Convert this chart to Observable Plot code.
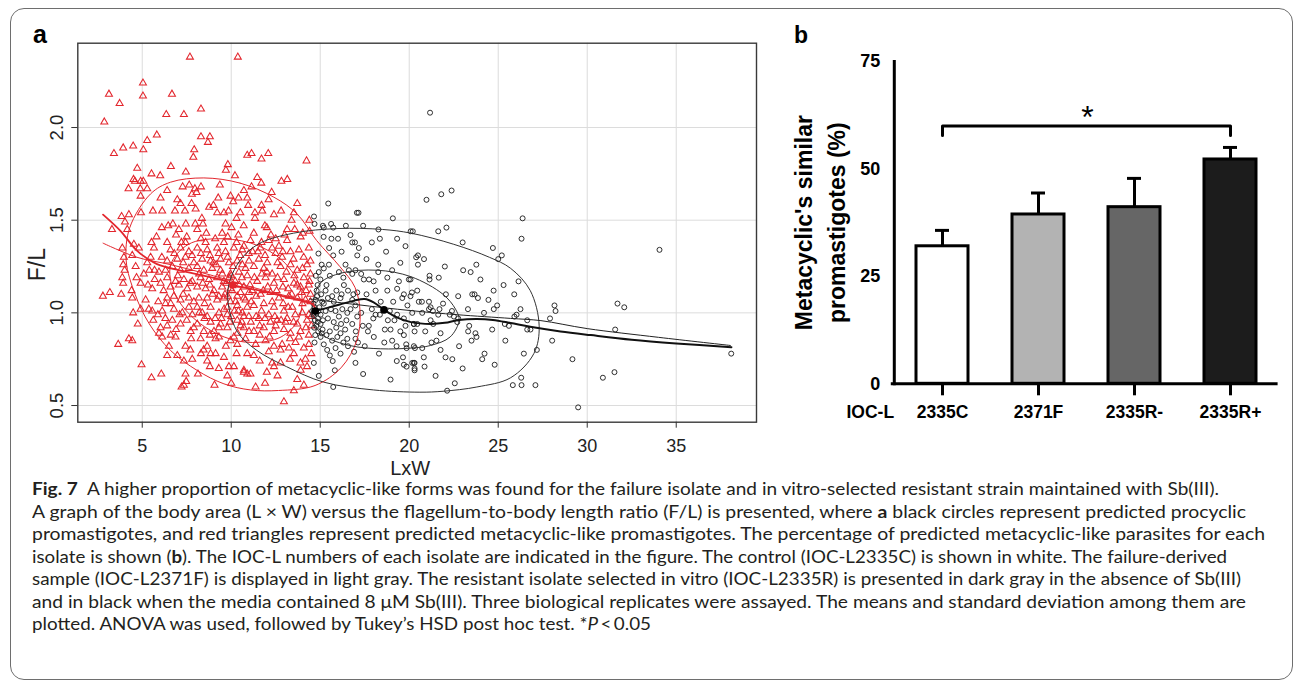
<!DOCTYPE html>
<html><head><meta charset="utf-8">
<script src="https://cdn.jsdelivr.net/npm/d3@7"></script>
<script src="https://cdn.jsdelivr.net/npm/@observablehq/plot@0.6"></script>
<style>
html,body{margin:0;padding:0;background:#fff}
body{width:1295px;height:681px;overflow:hidden;position:relative;font-family:"Liberation Sans",Arial,sans-serif}
#border{position:absolute;left:10px;top:8px;width:1283px;height:672px;border:1.5px solid #6e6e6e;border-radius:14px;box-sizing:border-box}
#pa{position:absolute;left:0;top:0}
#pb{position:absolute;left:760px;top:0}
#labels{position:absolute;left:0;top:0}
#cap{position:absolute;left:32px;top:478px;font-family:Lato,"Open Sans",sans-serif;font-size:16.5px;line-height:22.5px;color:#231f20}
#cap div{white-space:nowrap;transform-origin:0 50%;width:max-content}
</style></head>
<body>
<div id="border"></div>
<div id="pa"></div>
<div id="pb"></div>
<svg id="labels" width="1295" height="681"><text x="33" y="43" font-family="Liberation Sans, Arial" font-weight="bold" font-size="25">a</text><text x="794" y="43" font-family="Liberation Sans, Arial" font-weight="bold" font-size="23">b</text></svg>
<div id="cap">
<div data-w="1187"><b>Fig. 7</b>&nbsp; A higher proportion of metacyclic-like forms was found for the failure isolate and in vitro-selected resistant strain maintained with Sb(III).</div>
<div data-w="1214">A graph of the body area (L × W) versus the flagellum-to-body length ratio (F/L) is presented, where <b>a</b> black circles represent predicted procyclic</div>
<div data-w="1233">promastigotes, and red triangles represent predicted metacyclic-like promastigotes. The percentage of predicted metacyclic-like parasites for each</div>
<div data-w="1195">isolate is shown (<b>b</b>). The IOC-L numbers of each isolate are indicated in the figure. The control (IOC-L2335C) is shown in white. The failure-derived</div>
<div data-w="1209">sample (IOC-L2371F) is displayed in light gray. The resistant isolate selected in vitro (IOC-L2335R) is presented in dark gray in the absence of Sb(III)</div>
<div data-w="1214">and in black when the media contained 8 μM Sb(III). Three biological replicates were assayed. The means and standard deviation among them are</div>
<div data-w="619">plotted. ANOVA was used, followed by Tukey’s HSD post hoc test. *<i>P</i>&thinsp;&lt;&thinsp;0.05</div>
</div>
<script>
// ---------- Panel a data (LxW, F/L) ----------
const xTicks = [5, 10, 15, 20, 25, 30, 35];
const yTicks = [0.5, 1.0, 1.5, 2.0];

const metacyclic = [
[7.68,2.38],[10.37,2.38],[5.04,2.24],[3.13,2.18],[5.04,2.17],[6.67,2.18],[3.73,2.13],[6.35,2.07],[7.34,2.07],[8.30,2.10],
[2.87,2.03],[5.82,1.96],[5.28,1.93],[8.30,1.95],[8.80,1.95],[8.69,1.92],[3.41,1.86],[3.93,1.89],[4.49,1.90],[5.06,1.88],
[7.92,1.88],[7.87,1.84],[10.90,1.85],[4.72,1.78],[6.61,1.79],[5.52,1.75],[6.01,1.74],[7.45,1.76],[9.81,1.80],[9.70,1.77],
[10.21,1.74],[4.51,1.72],[4.91,1.71],[4.59,1.71],[4.23,1.67],[5.06,1.71],[4.89,1.67],[5.28,1.67],[4.91,1.63],[6.40,1.66],
[7.27,1.68],[7.64,1.69],[7.96,1.67],[8.30,1.68],[9.36,1.69],[10.71,1.66],[7.79,1.64],[8.05,1.65],[6.03,1.62],[6.97,1.61],
[7.15,1.59],[7.77,1.59],[9.27,1.62],[9.96,1.63],[10.11,1.60],[10.41,1.62],[8.76,1.57],[10.90,1.62],[4.93,1.54],[6.12,1.55],
[6.84,1.55],[7.40,1.55],[9.21,1.54],[9.59,1.54],[9.85,1.55],[10.51,1.54],[3.84,1.52],[4.25,1.53],[3.30,1.45],[4.03,1.49],
[4.16,1.45],[6.46,1.47],[6.72,1.48],[7.06,1.45],[7.45,1.48],[7.98,1.48],[8.35,1.51],[8.41,1.48],[8.09,1.45],[9.68,1.48],
[10.02,1.46],[9.49,1.43],
[11.14,1.86],[11.70,1.83],[12.08,1.86],[14.23,1.82],[11.46,1.73],[11.69,1.70],[11.14,1.68],[12.27,1.65],[12.82,1.71],[13.15,1.72],
[10.95,1.58],[11.70,1.58],[11.74,1.55],[13.71,1.59],[12.40,1.53],[13.52,1.54],[11.33,1.54],[11.33,1.51],[13.39,1.50],[14.39,1.50],
[11.89,1.47],[13.14,1.45],[13.57,1.45],[14.02,1.43],[12.23,1.42],[11.27,1.43],
[6.90,1.42],[7.50,1.41],[8.60,1.43],[9.10,1.40],[10.40,1.42],[5.80,1.41],[12.50,1.40],[13.90,1.41],[14.40,1.44],
[10.71,1.36],[11.08,1.39],[11.64,1.35],[12.11,1.39],[12.68,1.36],[13.14,1.39],[13.80,1.34],[14.36,1.35],[12.49,1.32],[12.86,1.30],
[13.33,1.33],[14.07,1.30],[14.26,1.26],[14.45,1.28],[12.02,1.27],[11.55,1.29],[10.99,1.32],[10.62,1.26],[11.27,1.25],[11.83,1.24],
[12.30,1.21],[12.77,1.25],[13.33,1.26],[13.71,1.23],[14.08,1.19],[14.45,1.21],[10.90,1.20],[11.46,1.17],[11.93,1.19],[12.40,1.16],
[12.96,1.18],[13.52,1.16],[13.89,1.14],[14.36,1.15],[10.71,1.14],[11.18,1.12],[11.65,1.10],[12.21,1.11],[12.68,1.08],[13.24,1.09],
[13.71,1.08],[14.17,1.07],[14.45,1.06],[10.80,1.07],[11.27,1.04],[11.83,1.05],[12.40,1.03],[12.96,1.01],[13.43,1.03],[13.99,1.00],
[14.36,0.99],[10.62,1.00],[10.99,0.98],[11.55,0.97],[12.11,0.99],[12.58,0.96],[13.14,0.97],[13.71,0.94],[14.26,0.96],[10.71,0.92],
[11.27,0.90],[11.83,0.92],[12.40,0.90],[12.96,0.91],[13.33,0.89],[13.89,0.90],[14.36,0.88],[10.80,0.86],[11.37,0.83],[11.93,0.85],
[12.40,0.82],[12.86,0.83],[13.24,0.81],[13.61,0.84],[14.08,0.81],[14.36,0.83],[10.90,0.78],[11.27,0.77],[12.11,0.79],[12.77,0.80],
[13.52,0.78],[14.17,0.75],[12.30,0.73],[12.40,0.71],[12.77,0.73],[13.89,0.73],[14.26,0.71],[10.71,0.68],[11.08,0.67],[13.71,0.64],
[14.08,0.61],[13.52,0.58],[11.37,0.60],[12.96,0.52],
[2.79,1.09],[3.18,1.11],[3.88,1.35],[3.97,1.30],[3.93,1.26],[4.01,1.23],[3.88,1.19],[3.93,1.16],[3.82,1.10],[4.44,1.08],
[4.40,1.12],[4.53,1.37],[4.81,1.35],[4.44,1.31],[4.63,1.25],[4.68,1.19],[4.91,1.16],[4.49,1.00],[4.75,0.94],[3.65,0.83],
[4.25,0.86],[4.44,0.85],[4.96,0.72],[5.52,0.65],[6.07,0.67],[5.52,1.38],[5.66,1.35],[5.47,1.30],[5.69,1.23],[5.32,1.15],
[5.56,1.13],[5.37,1.02],[5.56,1.01],[6.12,1.01],[5.88,0.99],[5.62,0.96],[6.40,1.08],[6.31,1.05],[6.78,1.02],[6.03,0.92],
[6.40,0.93],[5.94,0.89],[6.12,0.87],[6.50,0.82],[6.40,0.77],[6.87,0.87],[6.97,0.77],[7.43,0.82],[7.34,0.74],[7.43,0.67],
[7.34,0.61],[7.21,0.60],[7.47,0.63],[7.75,0.86],[7.81,0.75],[8.13,0.67],[8.28,0.86],[8.65,0.82],[8.65,0.74],[8.80,0.71],
[9.06,0.61],[8.84,0.78],[9.12,0.78],[9.31,0.87],[9.59,0.76],[9.78,0.66],[9.87,0.71],[10.15,0.71],[10.71,0.69],[10.90,0.67],
[9.31,0.92],[9.78,0.92],[9.03,0.90],[9.96,0.85],[10.15,0.87],[10.34,0.83],[9.12,0.86],[6.69,0.96],[7.15,0.94],[7.72,0.90],
[8.09,0.94],[8.46,0.90],[8.84,0.95],[8.65,0.98],[8.37,1.00],[7.81,0.99],[7.25,1.00],[7.62,1.03],[8.09,1.03],[8.84,1.03],
[9.31,1.00],[9.78,0.99],[10.34,0.96],[10.71,0.98],[9.78,1.03],[10.34,1.04],[10.90,1.03],[9.21,1.07],[9.59,1.08],[8.65,1.08],
[8.18,1.08],[7.62,1.08],[7.15,1.07],[6.78,1.09],[6.59,1.14],[7.06,1.15],[7.53,1.13],[8.09,1.14],[8.56,1.13],[9.03,1.12],
[9.49,1.14],[9.96,1.13],[10.52,1.11],[10.71,1.08],[10.34,1.09],[9.59,1.17],[9.21,1.19],[8.75,1.18],[8.28,1.19],[7.81,1.17],
[7.34,1.18],[6.87,1.17],[6.40,1.19],[6.03,1.16],[5.94,1.22],[6.31,1.23],[6.69,1.25],[7.15,1.23],[7.62,1.24],[8.09,1.25],
[8.46,1.23],[8.93,1.24],[9.40,1.23],[9.96,1.21],[10.43,1.22],[6.40,1.28],[6.97,1.29],[7.43,1.30],[7.90,1.27],[8.37,1.29],
[8.84,1.28],[9.40,1.29],[9.87,1.27],[10.34,1.28],[6.59,1.34],[7.15,1.35],[7.62,1.33],[8.09,1.35],[8.65,1.34],[9.21,1.35],
[9.68,1.33],[10.15,1.35],[10.62,1.34],[6.40,1.38],[7.43,1.38],[8.56,1.38],[9.59,1.38],[5.28,1.27],[5.09,1.21],[5.19,1.07],
[4.91,1.02],
[9.72,1.16],[9.88,1.19],[10.05,1.12],[10.22,1.17],[9.95,1.06],[10.18,1.01],[10.45,1.15],[9.65,1.10],[10.60,1.19],[11.05,1.15],
[11.40,1.09],[11.72,1.21],[12.05,1.14],[12.55,1.12],[12.92,1.05],[13.20,1.13],[13.05,0.95],[12.45,0.98],[11.70,1.01],[11.12,1.06],
[9.45,0.97],[9.92,0.95],[10.52,0.93],[11.10,0.95],[8.95,1.10],[8.40,1.16],[9.15,1.26],[10.10,1.25],[11.00,1.28],[11.90,1.31],
[12.60,1.27],[13.55,1.20],[13.95,1.11],[13.60,0.99],[13.30,0.86],[12.15,0.87],[11.60,0.88],[10.35,0.89],[9.70,0.82],[8.45,0.80],
[6.20,1.12],[6.60,1.05],[7.00,1.20],[7.30,1.10],[7.70,1.16],[7.90,1.06],[8.20,1.21],[8.50,1.05],[8.80,1.15],[9.00,1.27],
[9.30,1.09],[9.50,1.21],[9.80,1.09],[10.00,1.20],[10.25,1.06],[10.50,1.31],[10.80,1.24],[11.00,1.11],[11.30,1.19],[11.50,1.33],
[11.80,1.12],[12.00,1.22],[12.30,1.06],[12.60,1.19],[12.90,1.14],[13.10,1.22],[13.40,1.10],[13.70,1.15],[14.00,1.05],[14.20,1.12],
[14.50,0.98],[14.20,0.92],[13.80,0.87],[13.50,0.95],[13.20,1.03],[12.80,0.96],[12.50,0.93],[12.20,0.95],[11.90,0.97],[11.60,0.93],
[11.40,0.98],[11.00,0.90],[10.60,0.95],[10.40,1.01],[10.00,0.98],[9.60,1.02],[9.40,0.94],[9.10,0.97],[8.80,0.88],[8.50,0.97],
[8.20,1.00],[7.90,0.92],[7.50,0.96],[7.10,0.99],[6.90,0.91],[6.60,0.88],[6.30,0.97],[5.90,1.06],[5.70,1.18],[5.40,1.23],
[6.10,1.30],[6.80,1.32],[7.30,1.27],[7.80,1.31],[8.30,1.32],[8.80,1.31],[9.30,1.32],[9.80,1.30],[10.30,1.38],[11.20,1.33],
[11.70,1.38],[12.30,1.35],[12.90,1.33],[13.50,1.29],[14.00,1.24],[14.40,1.17],[13.00,1.42],[12.00,1.46],[10.70,1.47],[9.80,1.41],
[8.30,1.40],[7.20,1.38],[6.10,1.46],[5.60,1.55],[8.00,1.56],[9.00,1.58],[10.30,1.51],[12.80,1.55],[12.10,1.61],[13.30,0.75],
[12.00,0.68],[11.60,0.74],[10.30,0.78],[9.30,0.70],[8.30,0.78],[7.70,0.80],[11.90,0.62],[10.00,0.62],[12.60,0.66],[13.90,0.69],
[14.50,0.78],[14.50,0.93],[14.45,1.10]
];

const procyclic = [
[15.45,1.59],[14.65,1.52],[17.06,1.54],[17.15,1.54],[19.08,1.51],[14.68,1.48],[15.15,1.47],[15.20,1.46],[15.61,1.48],[15.73,1.46],
[16.44,1.47],[17.41,1.47],[18.27,1.45],[20.20,1.44],[16.70,1.42],[15.19,1.41],[15.63,1.40],[18.35,1.40],[19.32,1.40],[21.17,2.08],
[20.97,1.61],[21.80,1.64],[22.38,1.66],[26.37,1.51],[20.08,1.44],[21.63,1.44],[22.09,1.46],[26.31,1.40],[24.70,1.35],[25.00,1.29],
[25.20,1.31],[20.49,1.31],[20.83,1.29],[20.49,1.26],[23.03,1.23],[23.45,1.22],[23.77,1.26],[21.14,1.20],[21.14,1.18],[21.66,1.19],
[26.14,1.17],[20.07,1.18],[20.15,1.11],[22.06,1.10],[22.75,1.09],[23.54,1.10],[23.67,1.10],[23.86,1.08],[24.74,1.12],[24.45,1.07],
[25.90,1.10],[24.94,1.04],[24.75,1.02],[26.25,1.02],[26.03,0.99],[25.91,0.98],[28.16,1.04],[28.22,1.01],[27.91,0.97],[20.54,1.06],
[20.71,1.06],[21.11,1.06],[21.20,1.03],[21.11,1.02],[20.73,1.00],[21.33,1.01],[21.70,1.02],[21.63,0.99],[22.28,0.99],[22.40,1.01],
[22.51,0.98],[22.75,0.97],[22.70,0.95],[21.20,0.96],[21.35,0.94],[20.45,0.94],[20.26,0.94],[20.30,0.90],[21.76,0.89],[21.53,0.85],
[21.25,0.84],[20.73,0.81],[20.32,0.81],[23.37,0.93],[23.31,0.90],[23.72,0.89],[23.78,0.87],[23.50,0.85],[24.66,0.91],[25.37,0.94],
[25.60,0.93],[26.63,0.96],[26.63,0.91],[26.81,0.91],[28.03,0.85],[27.17,0.80],[26.44,0.78],[21.76,0.80],[22.04,0.76],[22.42,0.75],
[24.23,0.78],[24.10,0.75],[20.82,0.76],[20.86,0.71],[20.26,0.73],[20.30,0.69],[21.48,0.66],[22.56,0.62],[22.13,0.58],[26.29,0.65],
[25.82,0.61],[26.31,0.61],[27.09,0.61],[29.17,0.75],[29.49,0.49],
[30.88,0.65],[31.53,0.68],[38.09,0.78],[31.70,1.05],[32.08,1.03],[31.57,0.91],[34.06,1.34],
[16.80,1.38],[16.95,1.38],[17.17,1.35],[17.08,1.31],[15.73,1.31],[15.49,1.26],[15.08,1.26],[16.42,1.26],[18.26,1.26],[19.04,1.23],
[19.79,1.36],[20.39,1.30],[14.92,1.22],[15.54,1.20],[15.01,1.18],[16.05,1.22],[16.61,1.23],[16.80,1.21],[16.98,1.23],[17.45,1.18],
[17.74,1.18],[18.26,1.22],[18.77,1.19],[19.42,1.17],[19.98,1.18],[20.45,1.12],[18.11,1.12],[18.77,1.12],[19.32,1.13],[19.70,1.10],
[19.61,1.08],[20.07,1.09],[15.35,1.15],[15.91,1.12],[15.67,1.09],[16.33,1.15],[16.56,1.12],[16.86,1.10],[17.08,1.11],[16.80,1.07],
[16.98,1.04],[16.14,1.08],[15.76,1.06],[15.43,1.08],[15.11,1.06],[14.83,1.09],[14.68,1.03],[14.79,1.00],[15.02,0.99],[15.30,1.01],
[15.43,0.97],[15.86,1.01],[16.24,1.02],[16.52,1.00],[16.05,0.98],[15.76,0.95],[16.17,0.94],[16.47,0.96],[16.80,0.94],[17.08,0.98],
[17.39,0.93],[17.73,0.93],[17.98,0.97],[18.11,0.99],[18.35,0.99],[18.91,1.01],[19.32,0.99],[19.17,0.96],[19.70,0.97],[20.17,1.00],
[20.26,0.94],[19.79,0.93],[18.95,0.91],[18.63,0.91],[14.86,0.95],[14.89,0.90],[15.13,0.91],[15.02,0.87],[15.35,0.88],[15.54,0.90],
[15.67,0.85],[15.96,0.87],[16.52,0.86],[16.56,0.82],[16.98,0.86],[17.12,0.84],[16.14,0.89],[17.68,0.90],[18.01,0.87],[19.04,0.85],
[19.29,0.82],[19.70,0.88],[20.26,0.82],[19.83,0.83],[19.85,0.81],[14.68,0.84],[15.39,0.80],[15.54,0.77],[15.86,0.81],[16.14,0.78],
[14.64,0.73],[14.92,0.66],[15.82,0.69],[16.98,0.73],[17.41,0.67],[15.73,0.60],[18.95,0.64],[19.65,0.76],[19.70,0.72],[19.85,0.71],
[20.17,0.73],[20.30,0.73],[20.30,0.70],[14.55,1.01],[14.61,0.99],[14.87,0.97],[15.02,0.94],
[14.62,1.05],[14.70,0.96],[14.75,1.07],[14.66,0.92],[14.80,1.12],[14.72,0.88],[14.95,1.03],[15.05,1.10],[14.85,1.15],[15.15,0.96],
[14.64,1.00],[14.90,1.01],[15.20,1.05],[14.78,0.93],[15.08,0.89],
[15.30,1.12],[15.60,1.02],[15.90,0.92],[16.20,1.10],[16.40,0.91],[16.70,1.02],[17.00,0.90],[17.30,1.00],[17.60,1.10],[17.90,1.02],
[18.40,1.06],[18.80,0.96],[19.10,1.06],[19.50,0.90],[19.90,1.04],[15.20,0.83],[15.70,0.74],[16.30,0.84],[16.90,0.79],[17.50,0.82],
[18.30,0.78],[18.60,0.84],[19.30,0.74],[15.50,1.35],[16.20,1.33],[17.60,1.29],[18.70,1.33],[19.50,1.27],[16.00,1.40],[17.90,1.38],
[14.90,1.32],[15.20,1.24],[14.75,1.20],[17.30,1.21],[18.00,1.17],[16.30,1.19],[22.00,1.25],[23.00,1.38],[24.00,1.18],[25.30,1.15],
[24.20,1.00],[23.30,1.02],[25.40,0.85],[24.80,0.72],[23.00,0.70],[22.80,0.82],[20.90,0.90],[21.90,1.05]
];

// centres drawn as filled markers
const metaCentre = [[10.11, 1.15]];
const procCentres = [[14.72, 1.01], [18.58, 1.016]];

// ellipses and fitted lines
const redOuter = [[8.46,1.728],[10.5,1.70],[12.4,1.624],[13.7,1.534],[14.8,1.39],[16.1,1.25],[16.95,1.138],[17.24,1.003],[17.05,0.85],[16.2,0.707],[14.71,0.608],[12.65,0.581],[11.09,0.584],[9.59,0.617],[8.09,0.689],[6.59,0.797],[5.4,0.94],[4.6,1.10],[4.1,1.28],[4.3,1.46],[5.47,1.642],[6.59,1.705]];
const redInner = [[9.3,1.40],[11.3,1.37],[12.9,1.28],[13.9,1.13],[13.8,0.97],[12.8,0.87],[11.2,0.84],[9.6,0.87],[7.9,0.97],[6.8,1.11],[6.6,1.26],[7.6,1.37]];
const blackOuter = [[9.8,1.11],[10.4,1.27],[11.5,1.37],[13.5,1.43],[16.0,1.455],[18.5,1.45],[20.1,1.43],[22.5,1.37],[24.5,1.30],[25.7,1.24],[26.8,1.12],[27.3,0.93],[27.0,0.78],[25.7,0.65],[23.8,0.60],[21.9,0.577],[20.6,0.572],[18.0,0.584],[15.2,0.626],[13.1,0.71],[11.4,0.80],[10.3,0.905]];
const blackInner = [[14.55,1.03],[15.0,1.16],[16.2,1.215],[18.2,1.23],[20.1,1.195],[21.9,1.10],[22.6,1.02],[22.8,0.96],[22.3,0.87],[21.2,0.824],[20.1,0.81],[18.4,0.806],[16.7,0.823],[15.2,0.877],[14.6,0.95]];
const redSmooth = [[2.8,1.53],[3.8,1.44],[4.7,1.336],[5.8,1.264],[7.15,1.228],[8.5,1.20],[9.6,1.174],[10.1,1.15],[11.1,1.13],[12.5,1.10],[13.5,1.075],[14.5,1.05],[14.7,1.03]];
const redFit = [[2.8,1.376],[4.7,1.30],[6.6,1.26],[9.0,1.20],[11.5,1.13],[14.5,1.06]];
const blackSmooth = [[14.7,1.01],[15.4,1.027],[16.1,1.045],[16.9,1.066],[17.5,1.075],[18.0,1.057],[18.6,1.016],[19.3,0.976],[20.1,0.95],[21.2,0.94],[22.0,0.946],[22.8,0.962],[23.8,0.967],[24.7,0.962],[25.7,0.945],[26.8,0.925],[28.5,0.90],[30.2,0.88],[32.5,0.855],[35.0,0.835],[38.1,0.815]];
const blackFit = [[14.4,1.075],[17.0,1.045],[20.1,1.012],[22.7,0.99],[25.7,0.97],[27.4,0.958],[30.0,0.915],[34.0,0.868],[38.05,0.824]];

// ---------- Panel b data ----------
const strains = ["2335C", "2371F", "2335R-", "2335R+"];
const means = [32.0, 39.4, 41.1, 52.2];
const sds = [3.7, 5.0, 6.7, 2.8];
const barColors = ["#ffffff", "#b3b3b3", "#666666", "#1c1c1c"];
const pTicks = [0, 25, 50, 75];

const RED = "#e3262d";
const xy = {x: d => d[0], y: d => d[1]};

const chartA = Plot.plot({
  width: 770, height: 480,
  marginLeft: 77.3, marginTop: 42.7, marginRight: 14, marginBottom: 58.3,
  style: {fontFamily: "Liberation Sans, Arial, sans-serif", background: "transparent", overflow: "visible", color: "#222"},
  x: {domain: [1.38, 39.51], label: null},
  y: {domain: [0.41, 2.455], label: null},
  marks: [
    Plot.gridX({ticks: xTicks, stroke: "#dcdcdc", strokeOpacity: 1, strokeWidth: 1}),
    Plot.gridY({ticks: yTicks, stroke: "#dcdcdc", strokeOpacity: 1, strokeWidth: 1}),
    Plot.dot(metacyclic, {...xy, symbol: "triangle", r: 2.6, stroke: RED, strokeWidth: 1.05, fill: "none"}),
    Plot.dot(procyclic, {...xy, r: 2.5, stroke: "#1a1a1a", strokeWidth: 0.9, fill: "none"}),
    Plot.line(redOuter, {...xy, curve: "catmull-rom-closed", stroke: RED, strokeWidth: 1}),
    Plot.line(redInner, {...xy, curve: "catmull-rom-closed", stroke: RED, strokeWidth: 1}),
    Plot.line(blackOuter, {...xy, curve: "catmull-rom-closed", stroke: "#333", strokeWidth: 1}),
    Plot.line(blackInner, {...xy, curve: "catmull-rom-closed", stroke: "#333", strokeWidth: 1}),
    Plot.line(redFit, {...xy, curve: "catmull-rom", stroke: RED, strokeWidth: 1}),
    Plot.line(redSmooth, {...xy, curve: "catmull-rom", stroke: RED, strokeWidth: 1.8}),
    Plot.line(blackFit, {...xy, curve: "catmull-rom", stroke: "#222", strokeWidth: 1}),
    Plot.line(blackSmooth, {...xy, curve: "catmull-rom", stroke: "#111", strokeWidth: 2}),
    Plot.dot(metaCentre, {...xy, symbol: "square", r: 3.6, fill: RED}),
    Plot.dot(procCentres, {...xy, r: 3.8, fill: "#000"}),
    Plot.frame({stroke: "#3a3a3a", strokeWidth: 1.4}),
    Plot.axisX({ticks: xTicks, tickSize: 6, tickPadding: 11, fontSize: 18, stroke: "#333", tickFormat: d => String(d), label: null}),
    Plot.axisY({ticks: yTicks, tickSize: 6, tickFormat: () => "", stroke: "#333", label: null}),
    Plot.text(yTicks, {y: d => d, text: d => d.toFixed(1), frameAnchor: "left", dx: -20.3, rotate: -90, textAnchor: "middle", lineAnchor: "middle", fontSize: 18.5, fill: "#222"}),
    Plot.text(["LxW"], {text: d => d, frameAnchor: "bottom", dx: -7, dy: 46, lineAnchor: "middle", fontSize: 20, fill: "#222"}),
    Plot.text(["F/L"], {text: d => d, frameAnchor: "left", dx: -39.8, dy: 32, rotate: -90, textAnchor: "middle", lineAnchor: "middle", fontSize: 23, fill: "#222"})
  ]
});
document.getElementById("pa").appendChild(chartA);

const rows = strains.map((s, i) => ({s, m: means[i], sd: sds[i], c: barColors[i]}));
const chartB = Plot.plot({
  width: 535, height: 480,
  marginLeft: 133.8, marginRight: 17.4, marginTop: 61, marginBottom: 96.7,
  style: {fontFamily: "Liberation Sans, Arial, sans-serif", fontWeight: "bold", background: "transparent", overflow: "visible", color: "#000"},
  x: {domain: strains, paddingInner: 0.461, paddingOuter: 0.219, align: 0.5, label: null},
  y: {domain: [0, 75], label: null},
  marks: [
    Plot.ruleX(rows, {x: "s", y1: "m", y2: d => d.m + d.sd, stroke: "#000", strokeWidth: 3}),
    Plot.tickY(rows, {x: "s", y: d => d.m + d.sd, stroke: "#000", strokeWidth: 3, insetLeft: 19, insetRight: 19}),
    Plot.barY(rows, {x: "s", y: "m", fill: "c", stroke: "#000", strokeWidth: 3}),
    Plot.line([["2335C", 57.8], ["2335C", 60.0], ["2335R+", 60.0], ["2335R+", 57.8]], {x: d => d[0], y: d => d[1], stroke: "#000", strokeWidth: 3}),
    Plot.text(["*"], {x: () => "2371F", y: () => 62.0, dx: 49, text: d => d, fontSize: 32, fontWeight: "normal", lineAnchor: "middle", fill: "#000"}),
    Plot.ruleY([0], {stroke: "#000", strokeWidth: 3, insetLeft: -3}),
    Plot.frame({anchor: "left", stroke: "#000", strokeWidth: 3}),
    Plot.axisX({tickSize: 12, tickPadding: 10, strokeWidth: 3, stroke: "#000", fontSize: 17.5, fontWeight: "bold", fill: "#000", label: null}),
    Plot.axisY({ticks: pTicks, tickSize: 0, tickPadding: 14, fontSize: 18, fontWeight: "bold", fill: "#000", label: null}),
    Plot.text(["IOC-L"], {text: d => d, frameAnchor: "bottom-left", dx: -24, dy: 28.4, lineAnchor: "middle", textAnchor: "middle", fontSize: 17.5, fontWeight: "bold", fill: "#000"}),
    Plot.text(["Metacyclic's similar"], {text: d => d, frameAnchor: "left", dx: -89.4, rotate: -90, textAnchor: "middle", lineAnchor: "middle", fontSize: 23, fontWeight: "bold", fill: "#000"}),
    Plot.text(["promastigotes (%)"], {text: d => d, frameAnchor: "left", dx: -57, rotate: -90, textAnchor: "middle", lineAnchor: "middle", fontSize: 23, fontWeight: "bold", fill: "#000"})
  ]
});
document.getElementById("pb").appendChild(chartB);

function fitCaption() {
  document.querySelectorAll("#cap div").forEach(el => {
    el.style.transform = "none";
    const w = el.getBoundingClientRect().width;
    const t = +el.dataset.w;
    if (w > 0) el.style.transform = `scaleX(${t / w})`;
  });
}
fitCaption();
if (document.fonts && document.fonts.ready) document.fonts.ready.then(fitCaption);
</script>
</body></html>
